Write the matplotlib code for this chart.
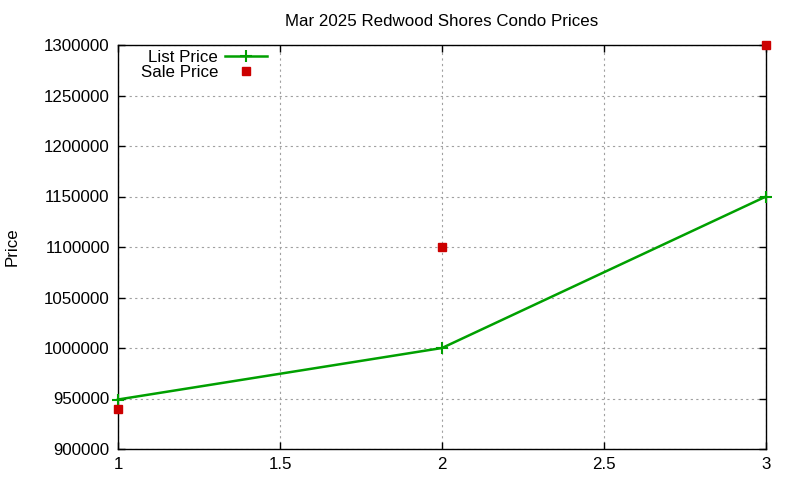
import matplotlib
matplotlib.use("Agg")
import matplotlib.pyplot as plt

# values
x_vals = [1, 2, 3]
list_price = [949000, 1000000, 1150000]
sale_price = [940000, 1100000, 1300000]
y_ticks = [900000, 950000, 1000000, 1050000, 1100000, 1150000, 1200000, 1250000, 1300000]
x_ticks = [1, 1.5, 2, 2.5, 3]
x_tick_labels = ["1", "1.5", "2", "2.5", "3"]

plt.rcParams['font.family'] = ['Liberation Sans', 'DejaVu Sans']

fig = plt.figure(figsize=(8, 4.8), dpi=100)
ax = fig.add_axes([118/800, 1 - 449/480, (766-118)/800, (449-45)/480])

ax.plot(x_vals, list_price, color='#00a000', linewidth=1.8, marker='+',
        markersize=9, markeredgewidth=1.5, label='List Price', clip_on=False, zorder=3)
ax.plot(x_vals, sale_price, linestyle='none', color='#cc0000', marker='s',
        markersize=6, label='Sale Price', clip_on=False, zorder=4)

ax.set_xlim(1, 3)
ax.set_ylim(900000, 1300000)
ax.set_xticks(x_ticks)
ax.set_xticklabels(x_tick_labels)
ax.set_yticks(y_ticks)
ax.set_yticklabels([str(v) for v in y_ticks])
ax.tick_params(direction='in', top=True, right=True, labelsize=12.2, length=5, width=1)
ax.tick_params(axis='x', pad=6)
ax.tick_params(axis='y', pad=6)
ax.grid(True, color='#a0a0a0', linestyle=(0, (2, 3)), linewidth=0.8)
for s in ax.spines.values():
    s.set_linewidth(1)

fig.text(12/800, 1 - 247/480, "Price", rotation=90, fontsize=12.2, ha='center', va='center')
ax.set_title("Mar 2025 Redwood Shores Condo Prices", fontsize=12.2, pad=14)

leg = ax.legend(loc='upper right', bbox_to_anchor=(0.238, 1.0), frameon=False,
                markerfirst=False, fontsize=12.2, handlelength=2.5,
                labelspacing=0.0, borderaxespad=0.1, borderpad=0.2, handletextpad=0.4)
for t in leg.get_texts():
    t.set_ha('right')
leg._legend_box.align = 'right'

fig.savefig("out.png", dpi=100)
